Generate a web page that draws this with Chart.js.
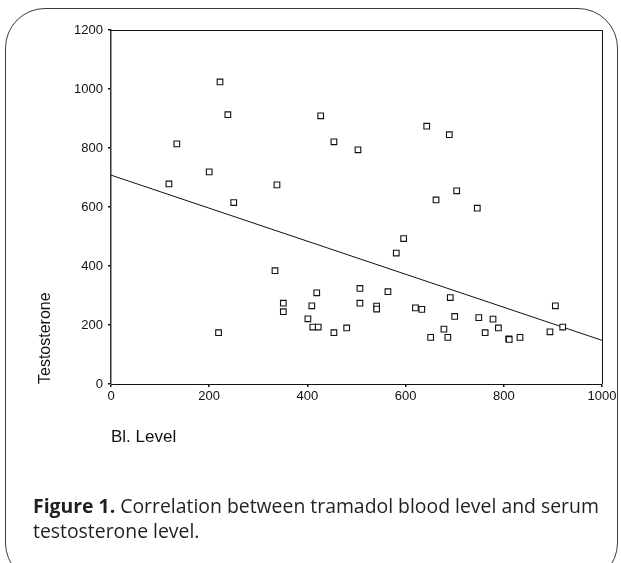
<!DOCTYPE html>
<html>
<head>
<meta charset="utf-8">
<script src="https://cdn.jsdelivr.net/npm/chart.js@4.4.1/dist/chart.umd.min.js"></script>
<style>
  html, body { margin: 0; padding: 0; background: #ffffff; }
  body { width: 621px; height: 563px; position: relative; overflow: hidden; }
  #frame { position: absolute; left: 5px; top: 8px; width: 613px; height: 575px;
           border: 1.3px solid #3a3a3a; border-radius: 40px; box-sizing: border-box; }
  #c { position: absolute; left: 0; top: 0; }
  #caption { position: absolute; left: 33px; top: 493px; width: 585px;
             font-family: "Open Sans", sans-serif; font-size: 19.4px; line-height: 25px; color: #231f20; }
  #caption b { font-weight: 700; }
</style>
</head>
<body>
<div id="frame"></div>
<canvas id="c" width="621" height="563"></canvas>
<div id="caption"><b>Figure 1.</b> Correlation between tramadol blood level and serum testosterone level.</div>
<script>
// Tramadol blood level (x) and serum testosterone (y)
const blLevel = [118, 134, 200, 222, 238, 250, 219, 338, 334, 351, 351, 409, 419, 401, 411, 422,
                 454, 480, 507, 507, 541, 541, 564, 581, 620, 633, 691, 700, 678, 651, 686, 749,
                 762, 778, 789, 810, 811, 833, 894, 905, 920, 427, 454, 503, 643, 689, 704, 662,
                 746, 596];
const testosterone = [678, 814, 719, 1024, 913, 615, 174, 675, 384, 274, 245, 265, 309, 221, 193, 193,
                      174, 190, 324, 274, 264, 254, 313, 444, 258, 253, 293, 229, 186, 158, 158, 225,
                      174, 220, 190, 153, 151, 158, 177, 265, 193, 909, 821, 794, 874, 845, 655, 624,
                      596, 493];
// Fitted regression line end points
const fitX = [0, 1000];
const fitY = [708, 148];
// Axis ticks
const xTicks = [0, 200, 400, 600, 800, 1000];
const yTicks = [0, 200, 400, 600, 800, 1000, 1200];

const points = blLevel.map((x, i) => ({ x: x, y: testosterone[i] }));
const fitLine = fitX.map((x, i) => ({ x: x, y: fitY[i] }));

const boxPlugin = {
  id: 'box',
  afterDraw(chart) {
    const { ctx, chartArea: a } = chart;
    ctx.save();
    ctx.strokeStyle = '#111';
    ctx.lineWidth = 1;
    ctx.beginPath();
    ctx.moveTo(a.left, a.top + 0.5);
    ctx.lineTo(a.right + 0.5, a.top + 0.5);
    ctx.lineTo(a.right + 0.5, a.bottom);
    ctx.stroke();
    ctx.restore();
  }
};

const tickFont = { family: '"Liberation Sans", Arial, sans-serif', size: 13 };

new Chart(document.getElementById('c'), {
  type: 'scatter',
  data: {
    datasets: [
      {
        type: 'line',
        data: fitLine,
        borderColor: '#111',
        borderWidth: 1,
        pointRadius: 0,
        fill: false,
        tension: 0,
        order: 2
      },
      {
        data: points,
        pointStyle: 'rect',
        pointRadius: 4,
        pointBorderWidth: 1.1,
        pointBorderColor: '#111',
        pointBackgroundColor: '#ffffff',
        order: 1
      }
    ]
  },
  options: {
    responsive: false,
    devicePixelRatio: 1,
    animation: false,
    layout: { padding: { left: 0, top: 30, right: 19, bottom: 109 } },
    plugins: { legend: { display: false }, tooltip: { enabled: false } },
    scales: {
      x: {
        type: 'linear',
        min: 0, max: 1000,
        afterBuildTicks(scale) { scale.ticks = xTicks.map(v => ({ value: v })); },
        afterFit(scale) { scale.height = 70; },
        grid: { drawOnChartArea: false, drawTicks: true, tickLength: 3, color: '#111', lineWidth: 1.5 },
        border: { display: true, color: '#111', width: 1 },
        ticks: { font: tickFont, color: '#111', padding: 2, maxRotation: 0,
                 callback: v => String(v) },
        title: {
          display: true, text: 'Bl. Level', align: 'start', color: '#111',
          font: { family: '"Liberation Sans", Arial, sans-serif', size: 17 },
          padding: { top: 0, bottom: 6 }
        }
      },
      y: {
        type: 'linear',
        min: 0, max: 1200,
        afterBuildTicks(scale) { scale.ticks = yTicks.map(v => ({ value: v })); },
        afterFit(scale) { scale.width = 111; },
        grid: { drawOnChartArea: false, drawTicks: true, tickLength: 3, color: '#111', lineWidth: 1.5 },
        border: { display: true, color: '#333', width: 1.5 },
        ticks: { font: tickFont, color: '#111', padding: 5, callback: v => String(v) },
        title: {
          display: true, text: 'Testosterone', align: 'start', color: '#111',
          font: { family: '"Liberation Sans", Arial, sans-serif', size: 16 },
          padding: { top: 36, bottom: 0 }
        }
      }
    }
  },
  plugins: [boxPlugin]
});
</script>
</body>
</html>
